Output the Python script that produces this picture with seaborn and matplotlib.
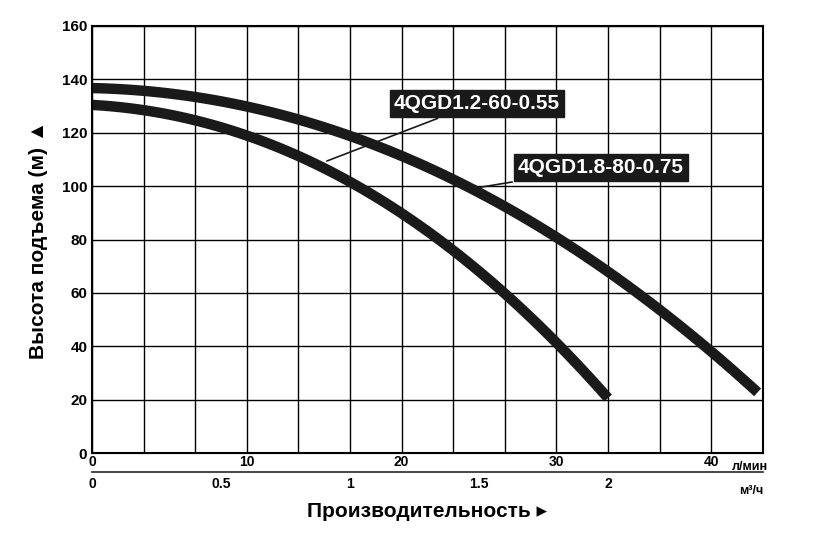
import numpy as np
import matplotlib.pyplot as plt
import seaborn as sns
import pandas as pd

# flow in m3/h, head in m
q_small = [0, 0.2, 0.4, 0.6, 0.8, 1.0, 1.2, 1.4, 1.6, 1.8, 2.0]
h_small = [130, 128.5, 125, 120, 111, 100, 89, 77, 60, 42, 20]
q_big = [0, 0.2, 0.4, 0.6, 0.8, 1.0, 1.2, 1.4, 1.6, 1.8, 2.0, 2.2, 2.4, 2.58]
h_big = [136.5, 135.5, 133, 130, 126, 120.5, 111, 100, 91, 80, 69, 56, 39, 21]
name_small = "4QGD1.2-60-0.55"
name_big = "4QGD1.8-80-0.75"

df = pd.concat([
    pd.DataFrame({"q": q_small, "h": h_small, "model": name_small}),
    pd.DataFrame({"q": q_big, "h": h_big, "model": name_big}),
])

sns.set_style("white")
plt.rcParams['font.family'] = ['Liberation Sans', 'DejaVu Sans']
plt.rcParams['text.color'] = 'black'
plt.rcParams['xtick.color'] = 'black'
plt.rcParams['ytick.color'] = 'black'
plt.rcParams['axes.labelcolor'] = 'black'

fig = plt.figure(figsize=(8.3, 5.37), dpi=100)
ax = fig.add_axes([0.111, 0.156, 0.808, 0.796])

for m in [name_small, name_big]:
    d = df[df.model == m]
    qs = np.linspace(d.q.min(), d.q.max(), 100)
    # light smoothing via polynomial fit of the read points
    p = np.polyfit(d.q, d.h, 3)
    sns.lineplot(x=qs, y=np.polyval(p, qs), ax=ax, color="#1a1a1a", lw=7.5,
                 solid_capstyle="butt")

ax.set_xlim(0, 2.6)
ax.set_ylim(0, 160)
ax.set_xticks(np.arange(0, 2.61, 0.2))
ax.set_xticklabels([])
ax.set_yticks(np.arange(0, 161, 20))
ax.tick_params(axis="y", labelsize=11, length=0)
for t in ax.get_yticklabels():
    t.set_fontweight("bold")
ax.tick_params(axis="x", length=0)
ax.grid(True, color="black", lw=1)
for s in ax.spines.values():
    s.set_color("black")
    s.set_linewidth(1.5)

ax.set_ylabel("Высота подъема (м) ▲", fontsize=15, fontweight="bold", labelpad=10)

# l/min scale
sec1 = ax.secondary_xaxis(0, functions=(lambda x: x * 1000 / 60, lambda x: x * 60 / 1000))
sec1.set_xticks([0, 10, 20, 30, 40])
sec1.tick_params(length=0, labelsize=10, pad=1)
for t in sec1.get_xticklabels():
    t.set_fontweight("bold")
ax.text(2.48, -3, "л/мин", fontsize=9, fontweight="bold", va="top", ha="left")

# m3/h scale
sec2 = ax.secondary_xaxis(-0.045)
sec2.set_xticks([0, 0.5, 1, 1.5, 2])
sec2.set_xticklabels(["0", "0.5", "1", "1.5", "2"])
sec2.tick_params(length=0, labelsize=10, pad=3)
for t in sec2.get_xticklabels():
    t.set_fontweight("bold")
sec2.spines["bottom"].set_linewidth(1.2)
ax.text(2.51, -12, "м³/ч", fontsize=9, fontweight="bold", va="top", ha="left")

sec2.set_xlabel("Производительность ▸", fontsize=15, fontweight="bold", labelpad=8)

box = dict(boxstyle="square,pad=0.2", fc="#1a1a1a", ec="#1a1a1a")
ax.annotate(name_small, xy=(0.9, 109), xytext=(1.17, 131), fontsize=15,
            fontweight="bold", color="white", bbox=box, va="center",
            arrowprops=dict(arrowstyle="-", color="#1a1a1a", lw=1.2))
ax.annotate(name_big, xy=(1.47, 99), xytext=(1.65, 107), fontsize=15,
            fontweight="bold", color="white", bbox=box, va="center",
            arrowprops=dict(arrowstyle="-", color="#1a1a1a", lw=1.2))

fig.savefig("out.png", dpi=100)
